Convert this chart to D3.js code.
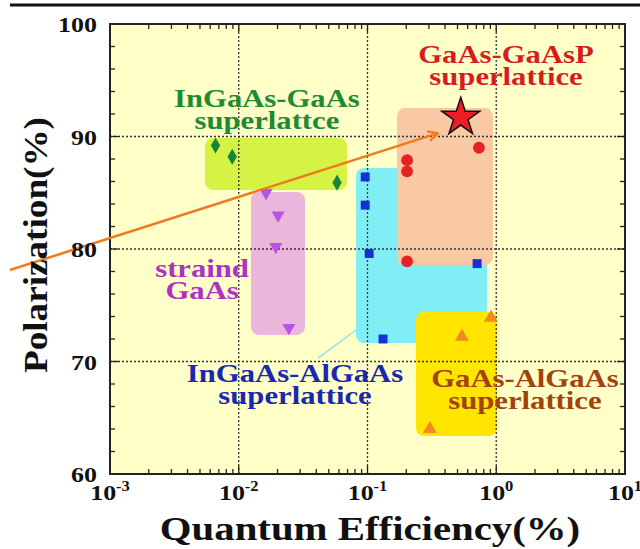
<!DOCTYPE html>
<html>
<head>
<meta charset="utf-8">
<script src="https://cdn.jsdelivr.net/npm/d3@7/dist/d3.min.js"></script>
<style>
  body { margin: 0; background: #ffffff; }
  svg { display: block; }
  text { font-family: "Liberation Serif", "Times New Roman", serif; font-weight: bold; }
</style>
</head>
<body>
<div class="chart"></div>
<script>
// ---- data ----
// QE in %, polarization in %
var ingaasGaasQE = [0.0066, 0.0089, 0.058];
var ingaasGaasP = [89.2, 88.2, 85.9];

var strainedQE = [0.0163, 0.0202, 0.0194, 0.0245];
var strainedP = [85.0, 83.0, 80.2, 73.0];

var ingaasAlgaasQE = [0.096, 0.096, 0.103, 0.71, 0.132];
var ingaasAlgaasP = [86.4, 83.9, 79.6, 78.7, 72.0];

var gaasGaaspQE = [0.203, 0.203, 0.203, 0.734];
var gaasGaaspP = [87.9, 86.9, 78.9, 89.0];

var gaasAlgaasQE = [0.91, 0.542, 0.305];
var gaasAlgaasP = [73.9, 72.2, 64.0];

var starQE = [0.53];
var starP = [91.7];

// shaded groups (QE range, P range)
var boxNames = ["InGaAs-GaAs", "strained GaAs", "InGaAs-AlGaAs", "GaAs-GaAsP", "GaAs-AlGaAs"];
var boxQE0 = [0.00547, 0.01245, 0.0815, 0.1694, 0.238];
var boxQE1 = [0.0693, 0.0327, 0.847, 0.944, 1.01];
var boxP0 = [85.24, 72.36, 71.64, 78.58, 63.38];
var boxP1 = [89.87, 85.07, 87.2, 92.53, 74.4];

// trend arrow and leader line
var arrowQE = [0.000167, 0.353];
var arrowP = [78.13, 90.3];
var leaderQE = [0.0413, 0.0815];
var leaderP = [70.3, 72.8];

// annotation texts
var labelLines = [
  ["GaAs-GaAsP", "superlattice"],
  ["InGaAs-GaAs", "superlattce"],
  ["straind", "GaAs"],
  ["InGaAs-AlGaAs", "superlattice"],
  ["GaAs-AlGaAs", "superlattice"]
];
var labelQE = [1.19, 0.01655, 0.00519, 0.02735, 1.67];
var labelP = [96.53, 92.62, 77.51, 68.18, 67.73];

var xTickExp = [-3, -2, -1, 0, 1];
var yTicks = [60, 70, 80, 90, 100];

// ---- layout ----
var svgWidth = 640;
var svgHeight = 549;
var plotL = 110, plotR = 625, plotT = 24, plotB = 474;
var stretch = 1.18;

var svg = d3.select(".chart").append("svg")
  .attr("width", svgWidth)
  .attr("height", svgHeight);

var x = d3.scaleLog().domain([1e-3, 10]).range([plotL, plotR]);
var y = d3.scaleLinear().domain([60, 100]).range([plotB, plotT]);

// black rule across the top
svg.append("line")
  .attr("x1", 10).attr("x2", 640).attr("y1", 5).attr("y2", 5)
  .attr("stroke", "#111").attr("stroke-width", 3);

// plot background
svg.append("rect")
  .attr("x", plotL).attr("y", plotT)
  .attr("width", plotR - plotL).attr("height", plotB - plotT)
  .attr("fill", "#ffffc8");

// shaded rounded boxes
var boxColors = ["#d6f244", "#ebb6dd", "#80eef4", "#f8c9a2", "#ffe500"];
boxNames.forEach(function(n, i) {
  svg.append("rect")
    .attr("x", x(boxQE0[i]))
    .attr("y", y(boxP1[i]))
    .attr("width", x(boxQE1[i]) - x(boxQE0[i]))
    .attr("height", y(boxP0[i]) - y(boxP1[i]))
    .attr("rx", 8)
    .attr("fill", boxColors[i]);
});

// dotted grid at the decades / every 10%
var grid = svg.append("g");
xTickExp.slice(1, -1).forEach(function(e) {
  grid.append("line")
    .attr("x1", x(Math.pow(10, e))).attr("x2", x(Math.pow(10, e)))
    .attr("y1", plotT).attr("y2", plotB)
    .attr("stroke", "#333").attr("stroke-width", 1.3).attr("stroke-dasharray", "2,2");
});
yTicks.slice(1, -1).forEach(function(v) {
  grid.append("line")
    .attr("x1", plotL).attr("x2", plotR)
    .attr("y1", y(v)).attr("y2", y(v))
    .attr("stroke", "#333").attr("stroke-width", 1.3).attr("stroke-dasharray", "2,2");
});

// inside ticks, all four sides
var ticks = svg.append("g").attr("stroke", "#222").attr("stroke-width", 1.3);
for (var e = -3; e < 1; e++) {
  for (var m = 1; m < 10; m++) {
    var xv = x(m * Math.pow(10, e));
    var len = m == 1 ? 8 : 5;
    ticks.append("line").attr("x1", xv).attr("x2", xv).attr("y1", plotB).attr("y2", plotB - len);
    ticks.append("line").attr("x1", xv).attr("x2", xv).attr("y1", plotT).attr("y2", plotT + len);
  }
}
for (var v = 60; v <= 100; v += 2) {
  var len2 = v % 10 == 0 ? 8 : 5;
  ticks.append("line").attr("x1", plotL).attr("x2", plotL + len2).attr("y1", y(v)).attr("y2", y(v));
  ticks.append("line").attr("x1", plotR).attr("x2", plotR - len2).attr("y1", y(v)).attr("y2", y(v));
}

// frame
svg.append("rect")
  .attr("x", plotL).attr("y", plotT)
  .attr("width", plotR - plotL).attr("height", plotB - plotT)
  .attr("fill", "none").attr("stroke", "#222").attr("stroke-width", 2);

// leader line from the blue label to its box
svg.append("line")
  .attr("x1", x(leaderQE[0])).attr("y1", y(leaderP[0]))
  .attr("x2", x(leaderQE[1])).attr("y2", y(leaderP[1]))
  .attr("stroke", "#8ce4ee").attr("stroke-width", 1.5);

// markers
function drawSeries(qe, p, type, size, color, rot) {
  var sym = d3.symbol().type(type).size(size);
  qe.forEach(function(q, i) {
    svg.append("path")
      .attr("d", sym())
      .attr("transform", "translate(" + x(q) + "," + y(p[i]) + ") rotate(" + (rot || 0) + ")")
      .attr("fill", color);
  });
}
drawSeries(ingaasGaasQE, ingaasGaasP, d3.symbolDiamond, 75, "#16843a");
drawSeries(strainedQE, strainedP, d3.symbolTriangle, 75, "#b854e2", 180);
drawSeries(ingaasAlgaasQE, ingaasAlgaasP, d3.symbolSquare, 80, "#1232d8");
drawSeries(gaasGaaspQE, gaasGaaspP, d3.symbolCircle, 110, "#e62222");
drawSeries(gaasAlgaasQE, gaasAlgaasP, d3.symbolTriangle, 85, "#f28a22");

// orange trend arrow
var defs = svg.append("defs");
defs.append("marker")
  .attr("id", "head")
  .attr("viewBox", "0 0 12 12")
  .attr("refX", 11).attr("refY", 6)
  .attr("markerWidth", 12).attr("markerHeight", 12)
  .attr("markerUnits", "userSpaceOnUse")
  .attr("orient", "auto")
  .append("path")
  .attr("d", "M1,1 L11,6 L1,11")
  .attr("fill", "none").attr("stroke", "#ef7a22").attr("stroke-width", 2.2);

svg.append("line")
  .attr("x1", x(arrowQE[0])).attr("y1", y(arrowP[0]))
  .attr("x2", x(arrowQE[1])).attr("y2", y(arrowP[1]))
  .attr("stroke", "#ef7a22").attr("stroke-width", 2.5)
  .attr("marker-end", "url(#head)");

// the red star
svg.append("path")
  .attr("d", d3.symbol().type(d3.symbolStar).size(450)())
  .attr("transform", "translate(" + x(starQE[0]) + "," + y(starP[0]) + ")")
  .attr("fill", "#ee1c24").attr("stroke", "#111").attr("stroke-width", 1.5);

// annotation labels
var labelColors = ["#d41e1e", "#1e8a32", "#b030c6", "#1a28b0", "#a4420e"];
labelLines.forEach(function(lines, i) {
  lines.forEach(function(t, j) {
    svg.append("text")
      .attr("transform", "translate(" + x(labelQE[i]) + "," + (y(labelP[i]) + j * 22) + ") scale(" + stretch + ",1)")
      .attr("text-anchor", "middle")
      .attr("font-size", "26px")
      .attr("fill", labelColors[i])
      .text(t);
  });
});

// y tick labels
yTicks.forEach(function(v) {
  svg.append("text")
    .attr("transform", "translate(97," + (y(v) + 8) + ") scale(" + stretch + ",1)")
    .attr("text-anchor", "end")
    .attr("font-size", "22px")
    .attr("fill", "#111")
    .text(v);
});

// x tick labels 10^n
xTickExp.forEach(function(e) {
  var t = svg.append("text")
    .attr("transform", "translate(" + x(Math.pow(10, e)) + ",500) scale(" + stretch + ",1)")
    .attr("text-anchor", "middle")
    .attr("font-size", "22px")
    .attr("fill", "#111");
  t.append("tspan").text("10");
  t.append("tspan").attr("dy", -9).attr("font-size", "14px").text(e);
});

// axis titles
svg.append("text")
  .attr("transform", "translate(370,540) scale(1.2,1)")
  .attr("text-anchor", "middle")
  .attr("font-size", "34px")
  .attr("fill", "#111")
  .text("Quantum Efficiency(%)");

svg.append("text")
  .attr("transform", "translate(47,245) rotate(-90)")
  .attr("text-anchor", "middle")
  .attr("font-size", "33px")
  .attr("textLength", 256)
  .attr("lengthAdjust", "spacingAndGlyphs")
  .attr("fill", "#111")
  .text("Polarization(%)");
</script>
</body>
</html>
